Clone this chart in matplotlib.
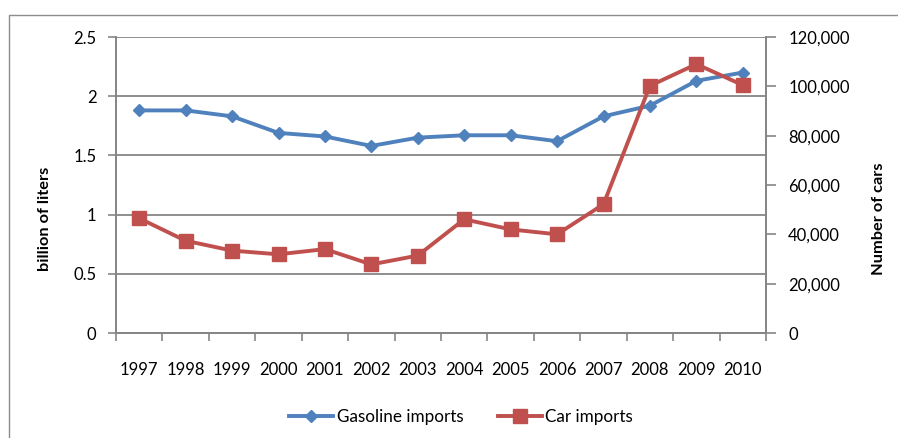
import matplotlib.pyplot as plt
from matplotlib.patches import Rectangle
from matplotlib.ticker import FuncFormatter, MultipleLocator

years = ['1997', '1998', '1999', '2000', '2001', '2002', '2003',
         '2004', '2005', '2006', '2007', '2008', '2009', '2010']
gasoline = [1.88, 1.88, 1.83, 1.69, 1.66, 1.58, 1.65,
            1.67, 1.67, 1.62, 1.83, 1.92, 2.13, 2.20]
cars = [46500, 37400, 33400, 31900, 34000, 27800, 31400,
        46100, 42000, 40000, 52200, 100200, 109000, 100500]

blue = '#4F81BD'
red = '#C0504D'
grey = '#868686'

plt.rcParams['font.family'] = ['Lato', 'DejaVu Sans']
plt.rcParams['font.size'] = 12

fig = plt.figure(figsize=(8.98, 4.38), dpi=100)
ax = fig.add_axes([116 / 898, 1 - 333 / 438, 650 / 898, 296 / 438])
ax2 = ax.twinx()

x = list(range(len(years)))
ax.plot(x, gasoline, color=blue, lw=2.8, marker='D', ms=6.5, label='Gasoline imports')
ax2.plot(x, cars, color=red, lw=2.8, marker='s', ms=10, label='Car imports')

ax.set_xlim(-0.5, len(years) - 0.5)
ax.set_ylim(0, 2.5)
ax.yaxis.set_major_locator(MultipleLocator(0.5))
ax.yaxis.set_major_formatter(FuncFormatter(lambda v, p: '%g' % v))
ax2.set_ylim(0, 120000)
ax2.yaxis.set_major_locator(MultipleLocator(20000))
ax2.yaxis.set_major_formatter(FuncFormatter(lambda v, p: '{:,.0f}'.format(v)))

ax.set_xticks(x)
ax.set_xticklabels(years)
ax.set_xticks([i - 0.5 for i in range(len(years) + 1)], minor=True)
ax.tick_params(axis='x', which='major', length=0, pad=21)
ax.tick_params(axis='x', which='minor', length=6, color=grey, width=1.2)
ax.tick_params(axis='y', length=6, color=grey, width=1.2, pad=8)
ax2.tick_params(axis='y', length=7, color=grey, width=1.2, pad=9)

ax.grid(axis='y', color=grey, lw=1.3)
ax.set_axisbelow(True)
for a in (ax, ax2):
    a.spines['top'].set_visible(False)
    for s in ('left', 'right', 'bottom'):
        a.spines[s].set_color(grey)
        a.spines[s].set_linewidth(1.3)

ax.set_ylabel('billion of liters', fontweight='bold', fontsize=11.8)
ax.yaxis.set_label_coords(52 / 898, 0.5, transform=fig.transFigure)
ax2.set_ylabel('Number of cars', fontweight='bold', fontsize=11.8)
ax2.yaxis.set_label_coords(872 / 898, 0.5, transform=fig.transFigure)

h1, l1 = ax.get_legend_handles_labels()
h2, l2 = ax2.get_legend_handles_labels()
fig.legend(h1 + h2, l1 + l2, loc='center', bbox_to_anchor=(461 / 898, 1 - 417 / 438),
           ncol=2, frameon=False, handlelength=2.6, columnspacing=2.0, handletextpad=0.2,
           fontsize=12.3)

fig.patches.append(Rectangle((9 / 898, -0.1), 1.2, 1 - 15 / 438 + 0.1, transform=fig.transFigure,
                             fill=False, ec='#8c8c8c', lw=1))

fig.savefig('out.png', dpi=100)
